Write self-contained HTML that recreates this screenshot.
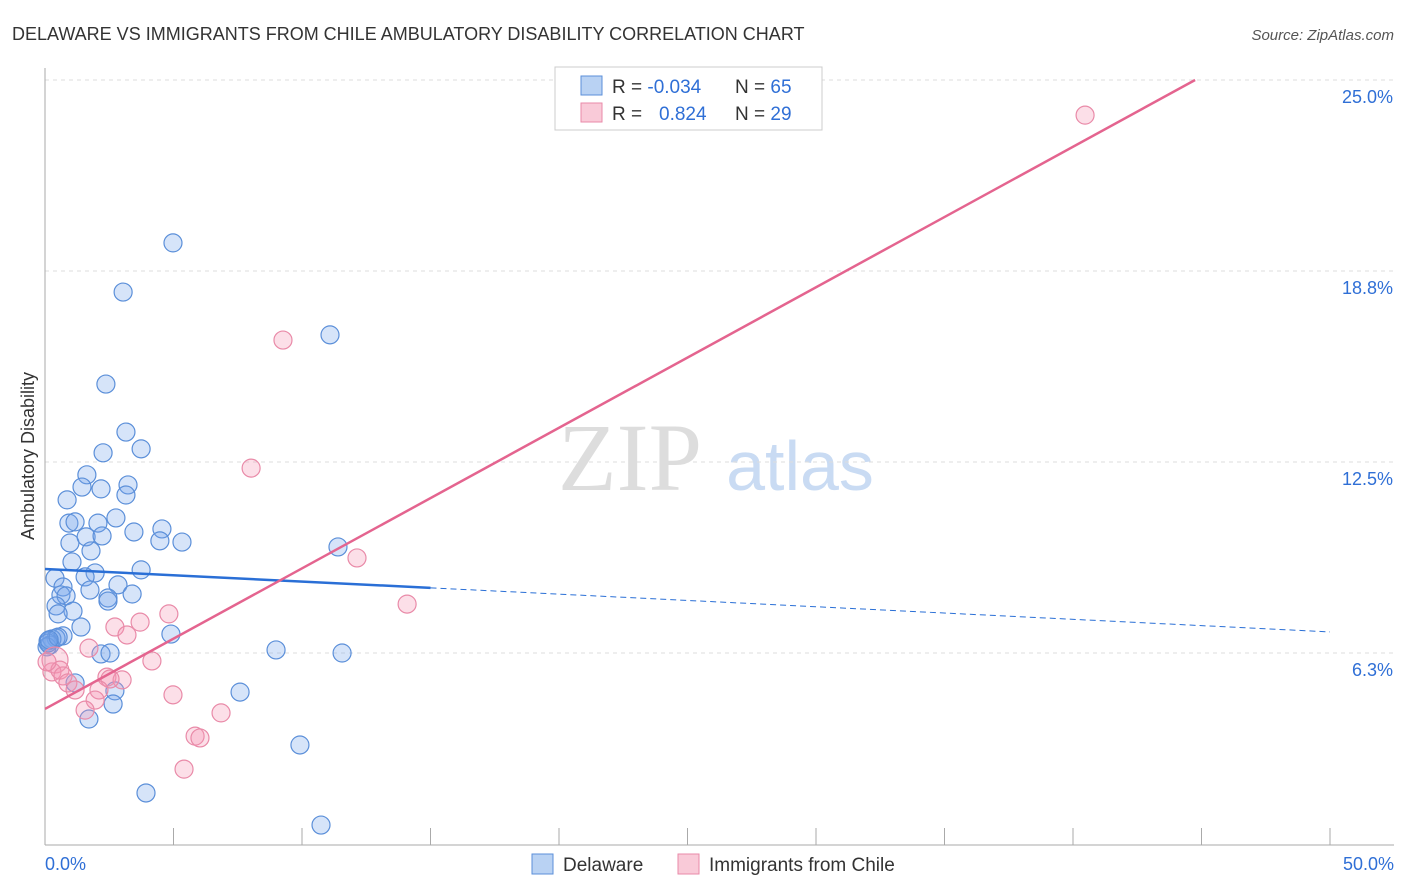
<!DOCTYPE html>
<html><head><meta charset="utf-8"><style>
body{margin:0;background:#fff;font-family:"Liberation Sans",sans-serif;}
svg{display:block}
</style></head><body>
<svg id="chart" width="1406" height="892" viewBox="0 0 1406 892">
<text x="12" y="40" font-size="18" fill="#333">DELAWARE VS IMMIGRANTS FROM CHILE AMBULATORY DISABILITY CORRELATION CHART</text>
<text x="1394" y="40" font-size="15" fill="#555" font-style="italic" text-anchor="end">Source: ZipAtlas.com</text>
<text x="630" y="490" font-size="96" fill="#ddd" font-family="Liberation Serif" text-anchor="middle">ZIP</text>
<text x="800" y="490" font-size="70" fill="#c9dbf3" text-anchor="middle">atlas</text>
<text transform="translate(34,456) rotate(-90)" font-size="18" fill="#333" text-anchor="middle">Ambulatory Disability</text>
<g id="grid"></g><g id="axes"></g><g id="marks"></g><g id="trends"></g>
<g>
<rect x="555" y="67" width="267" height="63" fill="#fff" stroke="#ccc"/>
<rect x="581" y="76" width="21" height="19" fill="#b9d2f3" stroke="#5b8fd9"/>
<rect x="581" y="103" width="21" height="19" fill="#f9cad8" stroke="#e98aa8"/>
<text x="612" y="93" font-size="19" fill="#333">R = <tspan fill="#2f6fd6">-0.034</tspan><tspan x="735">N = </tspan><tspan fill="#2f6fd6">65</tspan></text>
<text x="612" y="120" font-size="19" fill="#333">R = <tspan x="659" fill="#2f6fd6">0.824</tspan><tspan x="735">N = </tspan><tspan fill="#2f6fd6">29</tspan></text>
</g>
<g>
<rect x="532" y="854" width="21" height="20" fill="#b9d2f3" stroke="#5b8fd9"/>
<text x="563" y="871" font-size="19" fill="#333">Delaware</text>
<rect x="678" y="854" width="21" height="20" fill="#f9cad8" stroke="#e98aa8"/>
<text x="709" y="871" font-size="19" fill="#333">Immigrants from Chile</text>
</g>
</svg>
<script>
const yTicks=[6.3,12.5,18.8,25.0];
const yTickVals=[6.25,12.5,18.75,25];
const xTickLabels=["0.0%","50.0%"];
const blueX=[4.98,3.04,11.09,2.37,3.15,3.74,2.26,1.63,1.44,2.18,3.23,3.15,0.86,2.76,0.93,1.17,2.06,4.55,3.46,0.97,1.60,2.22,4.47,5.33,1.79,11.40,1.05,3.74,1.95,0.39,1.56,0.70,1.75,2.84,0.62,0.82,2.45,3.39,2.45,0.43,1.09,0.51,1.40,4.90,0.70,0.43,0.27,0.12,0.19,0.08,8.99,11.56,2.18,2.53,1.17,7.59,2.72,2.65,1.71,9.92,3.93,10.74,0.12,0.51,0.16];
const blueY=[19.67,18.06,16.66,15.05,13.48,12.93,12.80,12.08,11.68,11.62,11.75,11.42,11.26,10.67,10.50,10.54,10.50,10.31,10.21,9.85,10.05,10.08,9.92,9.88,9.59,9.72,9.23,8.97,8.87,8.70,8.74,8.41,8.31,8.48,8.15,8.12,8.05,8.18,7.95,7.79,7.62,7.53,7.10,6.87,6.81,6.74,6.71,6.64,6.51,6.45,6.35,6.25,6.22,6.25,5.27,4.97,5.01,4.58,4.09,3.24,1.67,0.62,6.58,6.77,6.68];
const pinkX=[40.47,9.26,8.02,12.14,14.09,4.82,3.70,2.72,3.19,1.71,4.16,0.39,0.27,0.58,0.70,2.41,3.00,0.89,2.53,1.17,2.10,4.98,1.95,1.56,6.85,5.84,6.03,5.41,0.08];
const pinkY=[23.85,16.49,12.30,9.36,7.85,7.53,7.26,7.10,6.84,6.41,5.99,6.02,5.63,5.69,5.50,5.46,5.37,5.27,5.40,5.04,5.04,4.88,4.71,4.38,4.29,3.53,3.47,2.45,5.96];
const blueTrend=[9.0,6.94];   // y at x=0, x=50
const pinkTrend=[4.42,25.0/1+0*0]; // y at x=0, y at x=44.75
const pinkTrendEndX=44.75;
const blueSolidEnd=15;

const NS="http://www.w3.org/2000/svg";
const X=v=>45+v*25.7, Y=v=>844-v*30.56;
function mk(tag,attrs,parent){const e=document.createElementNS(NS,tag);for(const k in attrs)e.setAttribute(k,attrs[k]);parent.appendChild(e);return e;}
const grid=document.getElementById('grid'),axes=document.getElementById('axes'),marks=document.getElementById('marks'),trends=document.getElementById('trends');
yTickVals.forEach((v,i)=>{
  const l=mk('line',{x1:45,x2:1394,y1:Y(v),y2:Y(v),stroke:'#ddd','stroke-dasharray':'4,4'},grid);
  
  
  const t=mk('text',{x:1393,y:Y(v)+23,'font-size':18,fill:'#2f6fd6','text-anchor':'end'},axes);
  t.textContent=yTicks[i].toFixed(1)+'%';
  
  
});
const ya=mk('line',{x1:45,x2:45,y1:68,y2:845,stroke:'#aaa'},axes);


const xa=mk('line',{x1:45,x2:1394,y1:845,y2:845,stroke:'#aaa'},axes);


for(let i=0;i<=10;i++){
  const tk=mk('line',{x1:X(i*5),x2:X(i*5),y1:828,y2:845,stroke:'#aaa'},axes);
  
  
}
[[0,'start',45],[1,'end',1394]].forEach(([i,a,x])=>{
  const t=mk('text',{x:x,y:870,'font-size':18,fill:'#2f6fd6','text-anchor':a},axes);
  t.textContent=xTickLabels[i];
  
  
});
blueX.forEach((v,i)=>{
  const c=mk('circle',{cx:X(v),cy:Y(blueY[i]),r:9,fill:'rgba(120,165,235,0.3)',stroke:'#5b8fd9','stroke-width':1.2},marks);
  
  
});
pinkX.forEach((v,i)=>{
  const c=mk('circle',{cx:X(v),cy:Y(pinkY[i]),r:i==11?13:9,fill:'rgba(245,150,180,0.3)',stroke:'#e98aa8','stroke-width':1.2},marks);
  
  
});
const bAt=x=>blueTrend[0]+(blueTrend[1]-blueTrend[0])*x/50;
const b1=mk('line',{x1:X(0),y1:Y(bAt(0)),x2:X(blueSolidEnd),y2:Y(bAt(blueSolidEnd)),stroke:'#2a6fd6','stroke-width':2.5},trends);


const b2=mk('line',{x1:X(blueSolidEnd),y1:Y(bAt(blueSolidEnd)),x2:X(50),y2:Y(bAt(50)),stroke:'#2a6fd6','stroke-width':1,'stroke-dasharray':'6,4'},trends);


const p1=mk('line',{x1:X(0),y1:Y(pinkTrend[0]),x2:X(pinkTrendEndX),y2:Y(pinkTrend[1]),stroke:'#e4648f','stroke-width':2.5},trends);


</script>
</body></html>
